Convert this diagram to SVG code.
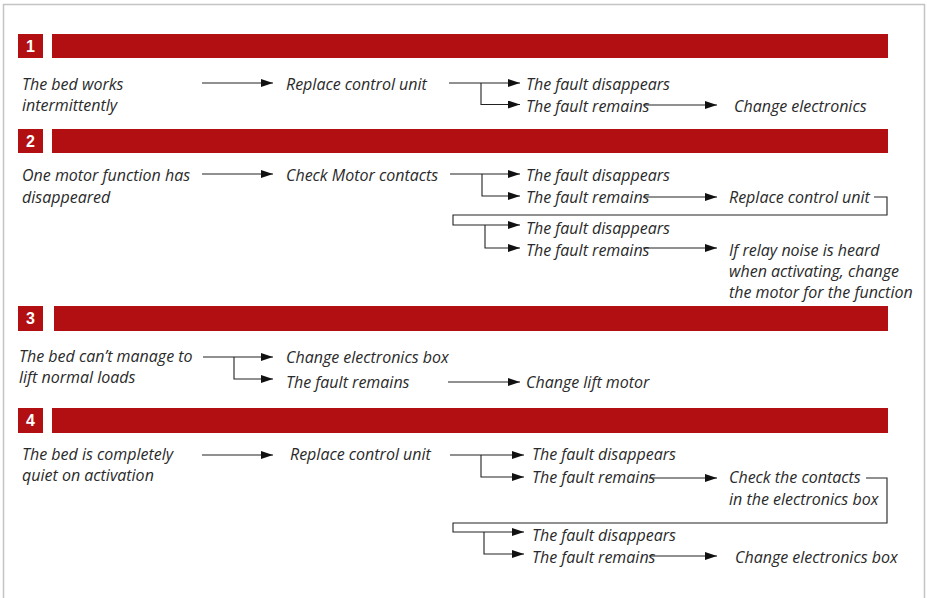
<svg xmlns="http://www.w3.org/2000/svg" width="927" height="598" viewBox="0 0 927 598">
<defs>
<marker id="ah" markerWidth="12" markerHeight="8" refX="12" refY="4" orient="auto" markerUnits="userSpaceOnUse">
<path d="M0,0 L12,4 L0,8 Z" fill="#111"/>
</marker>
<style>
.t{font-family:"Open Sans",Lato,sans-serif;font-style:italic;font-size:16px;fill:#2a2a2a}
.n{font-family:"Liberation Sans",Arial,sans-serif;font-weight:bold;font-size:16px;fill:#fff}
.bar{fill:#b20f12}
.a{fill:none;stroke:#222;stroke-width:1.1;marker-end:url(#ah)}
</style>
</defs>
<rect x="0" y="0" width="927" height="598" fill="#fff"/>
<path d="M3.5,598 V4.5 H924.5 V598" fill="none" stroke="#c4c4c4" stroke-width="1.5"/>

<g id="header1"><rect class="bar" x="18" y="34" width="25" height="24"/><rect class="bar" x="52" y="34" width="836" height="24"/><text class="n" x="30.5" y="52" text-anchor="middle">1</text></g>
<g id="header2"><rect class="bar" x="18" y="129" width="25" height="24"/><rect class="bar" x="52" y="129" width="836" height="24"/><text class="n" x="30.5" y="147" text-anchor="middle">2</text></g>
<g id="header3"><rect class="bar" x="18" y="306" width="25" height="25"/><rect class="bar" x="54" y="306" width="834" height="25"/><text class="n" x="30.5" y="324" text-anchor="middle">3</text></g>
<g id="header4"><rect class="bar" x="18" y="408" width="25" height="25"/><rect class="bar" x="52" y="408" width="836" height="25"/><text class="n" x="30.5" y="426" text-anchor="middle">4</text></g>

<g id="s1-problem"><text class="t" x="22" y="90">The bed works</text><text class="t" x="22" y="111">intermittently</text></g>
<g id="s1-action"><text class="t" x="286" y="90">Replace control unit</text></g>
<g id="s1-dis"><text class="t" x="526" y="90">The fault disappears</text></g>
<g id="s1-rem"><text class="t" x="526" y="112">The fault remains</text></g>
<g id="s1-next"><text class="t" x="734" y="112">Change electronics</text></g>

<g id="s2-problem"><text class="t" x="22" y="181">One motor function has</text><text class="t" x="22" y="203">disappeared</text></g>
<g id="s2-action"><text class="t" x="286" y="181">Check Motor contacts</text></g>
<g id="s2-dis1"><text class="t" x="526" y="181">The fault disappears</text></g>
<g id="s2-rem1"><text class="t" x="526" y="203">The fault remains</text></g>
<g id="s2-next1"><text class="t" x="729" y="203">Replace control unit</text></g>
<g id="s2-dis2"><text class="t" x="526" y="234">The fault disappears</text></g>
<g id="s2-rem2"><text class="t" x="526" y="256">The fault remains</text></g>
<g id="s2-next2"><text class="t" x="729" y="256">If relay noise is heard</text><text class="t" x="729" y="277">when activating, change</text><text class="t" x="729" y="298">the motor for the function</text></g>

<g id="s3-problem"><text class="t" x="19" y="362">The bed can’t manage to</text><text class="t" x="19" y="383">lift normal loads</text></g>
<g id="s3-action"><text class="t" x="286" y="363">Change electronics box</text></g>
<g id="s3-rem"><text class="t" x="286" y="388">The fault remains</text></g>
<g id="s3-next"><text class="t" x="526" y="388">Change lift motor</text></g>

<g id="s4-problem"><text class="t" x="22" y="460">The bed is completely</text><text class="t" x="22" y="481">quiet on activation</text></g>
<g id="s4-action"><text class="t" x="290" y="460">Replace control unit</text></g>
<g id="s4-dis1"><text class="t" x="532" y="460">The fault disappears</text></g>
<g id="s4-rem1"><text class="t" x="532" y="483">The fault remains</text></g>
<g id="s4-next1"><text class="t" x="729" y="483">Check the contacts</text><text class="t" x="729" y="505">in the electronics box</text></g>
<g id="s4-dis2"><text class="t" x="532" y="541">The fault disappears</text></g>
<g id="s4-rem2"><text class="t" x="532" y="563">The fault remains</text></g>
<g id="s4-next2"><text class="t" x="735" y="563">Change electronics box</text></g>

<g id="connectors">
<path class="a" d="M202,83 H273"/>
<path class="a" d="M449,83 H520"/>
<path class="a" d="M481,83 V104.5 H520"/>
<path class="a" d="M643,105 H717"/>

<path class="a" d="M202,174 H273"/>
<path class="a" d="M450,174 H520"/>
<path class="a" d="M482,174 V196 H520"/>
<path class="a" d="M643,197 H717"/>
<path class="a" d="M874,197 H887 V215 H453 V225 H520"/>
<path class="a" d="M485,225 V248 H520"/>
<path class="a" d="M643,248 H717"/>

<path class="a" d="M203,357 H273"/>
<path class="a" d="M234,357 V379 H273"/>
<path class="a" d="M448,382 H520"/>

<path class="a" d="M202,455 H273"/>
<path class="a" d="M450,455 H524"/>
<path class="a" d="M481,455 V477 H524"/>
<path class="a" d="M649,478 H717"/>
<path class="a" d="M866,478 H887 V523 H453 V532 H524"/>
<path class="a" d="M484,532 V554 H524"/>
<path class="a" d="M649,556 H717"/>
</g>
</svg>
